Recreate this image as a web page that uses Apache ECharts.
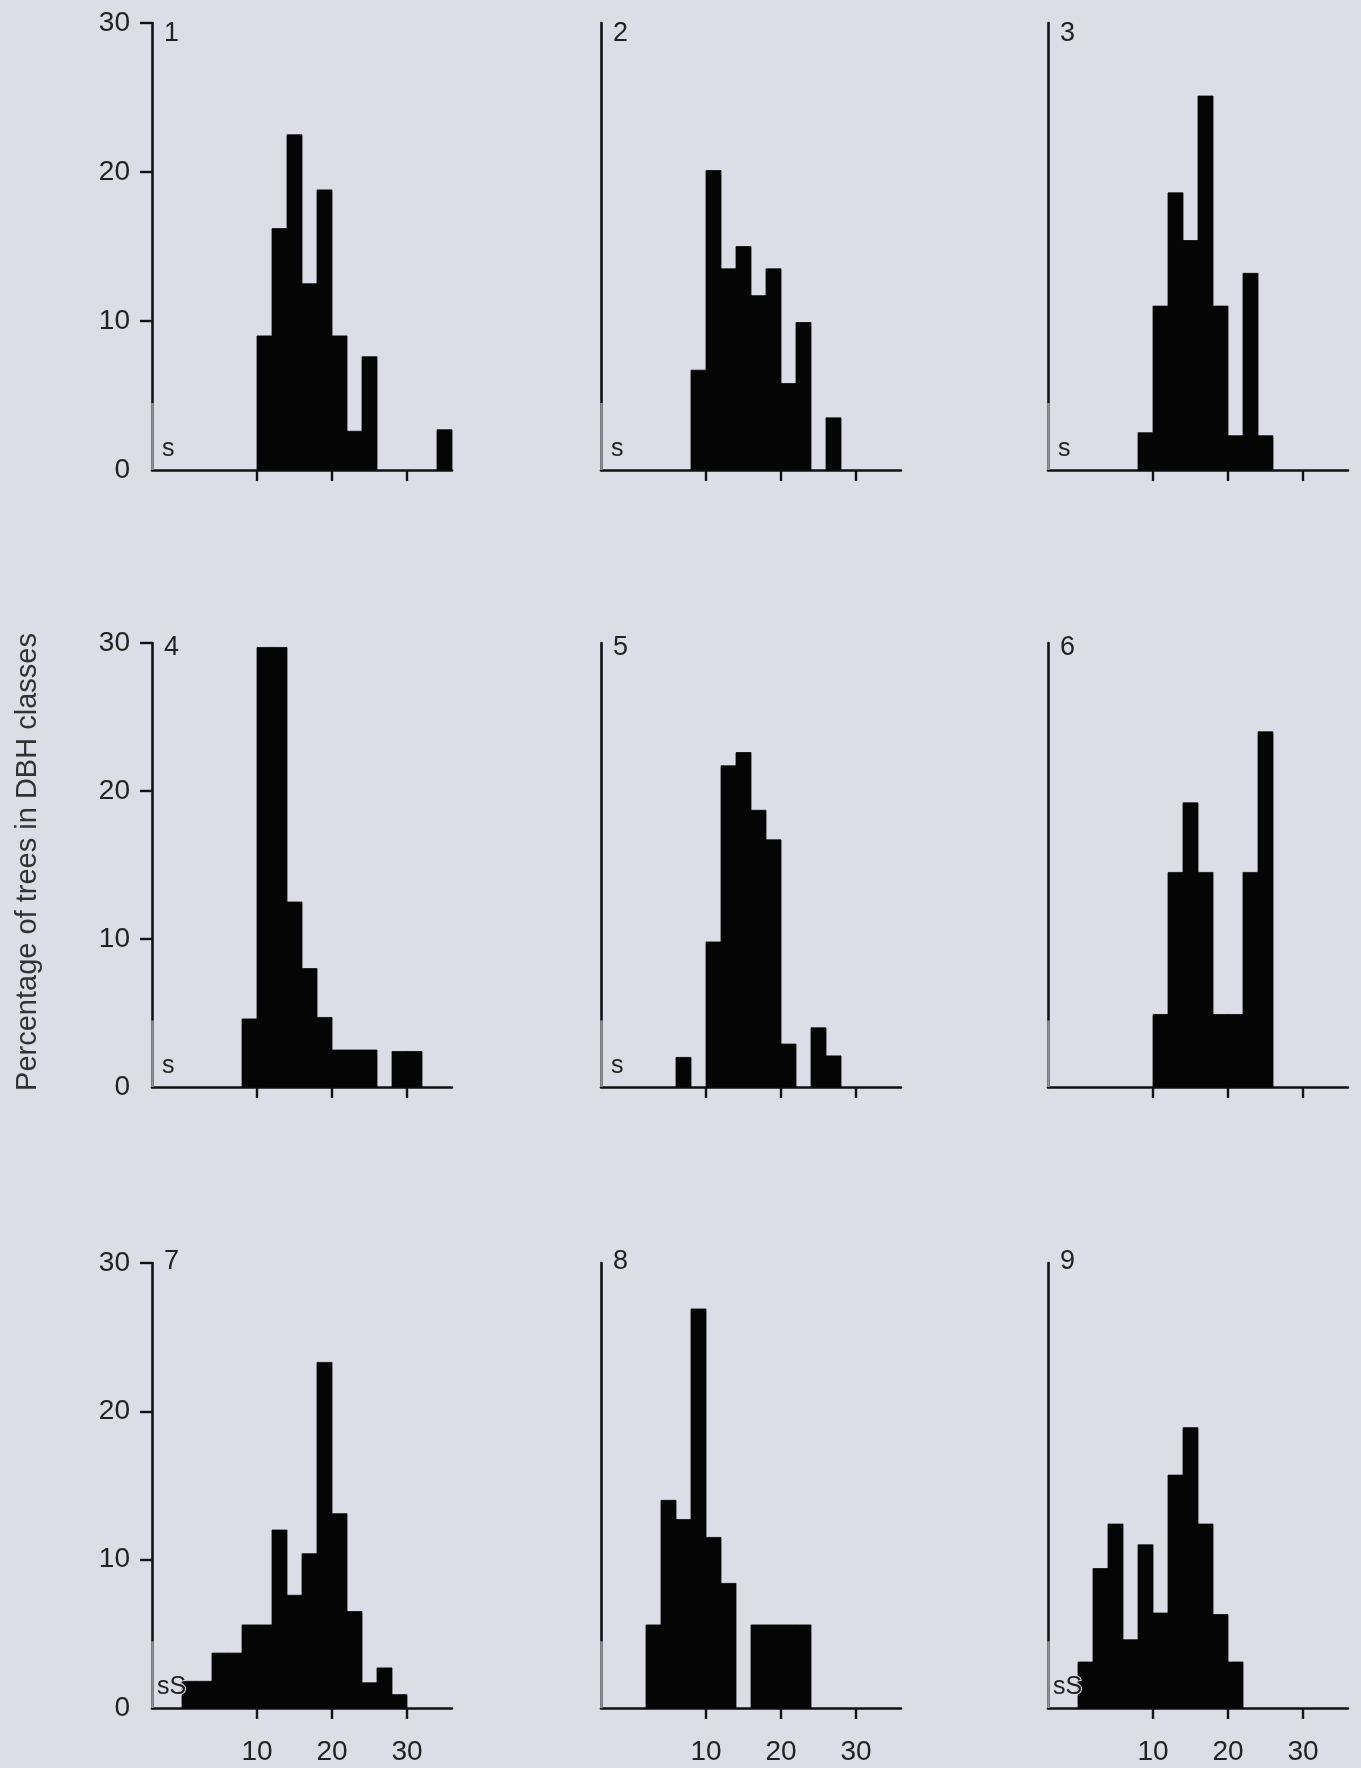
<!DOCTYPE html>
<html>
<head>
<meta charset="utf-8">
<script src="https://cdn.jsdelivr.net/npm/echarts@6/dist/echarts.min.js"></script>
<style>
  html, body { margin: 0; padding: 0; background: #dcdde6; }
  #chart { width: 1361px; height: 1768px; }
</style>
</head>
<body>
<div id="chart"></div>
<script>
// ---- Data ----
// Lower edge of each DBH class (cm); each class is classWidth wide
const dbhClasses = [0, 2, 4, 6, 8, 10, 12, 14, 16, 18, 20, 22, 24, 26, 28, 30, 32, 34];
const classWidth = 2;

// Percentage of trees in each DBH class, one array per panel
const panel1 = [0, 0, 0, 0, 0, 9.0, 16.2, 22.5, 12.5, 18.8, 9.0, 2.6, 7.6, 0, 0, 0, 0, 2.7];
const panel2 = [0, 0, 0, 0, 6.7, 20.1, 13.5, 15.0, 11.7, 13.5, 5.8, 9.9, 0, 3.5, 0, 0, 0, 0];
const panel3 = [0, 0, 0, 0, 2.5, 11.0, 18.6, 15.4, 25.1, 11.0, 2.3, 13.2, 2.3, 0, 0, 0, 0, 0];
const panel4 = [0, 0, 0, 0, 4.6, 29.7, 29.7, 12.5, 8.0, 4.7, 2.5, 2.5, 2.5, 0, 2.4, 2.4, 0, 0];
const panel5 = [0, 0, 0, 2.0, 0, 9.8, 21.7, 22.6, 18.7, 16.7, 2.9, 0, 4.0, 2.1, 0, 0, 0, 0];
const panel6 = [0, 0, 0, 0, 0, 4.9, 14.5, 19.2, 14.5, 4.9, 4.9, 14.5, 24.0, 0, 0, 0, 0, 0];
const panel7 = [1.8, 1.8, 3.7, 3.7, 5.6, 5.6, 12.0, 7.6, 10.4, 23.3, 13.1, 6.5, 1.7, 2.7, 0.9, 0, 0, 0];
const panel8 = [0, 5.6, 14.0, 12.7, 26.9, 11.5, 8.4, 0, 5.6, 5.6, 5.6, 5.6, 0, 0, 0, 0, 0, 0];
const panel9 = [3.1, 9.4, 12.4, 4.6, 11.0, 6.4, 15.7, 18.9, 12.4, 6.3, 3.1, 0, 0, 0, 0, 0, 0, 0];

const panelNames = ['1', '2', '3', '4', '5', '6', '7', '8', '9'];
const panelNotes = ['s', 's', 's', 's', 's', '', 'sS', '', 'sS'];
const sBarHeight = 4.5;           // light segment at the foot of each y axis
const yTickValues = [10, 20, 30];
const xTickValues = [10, 20, 30];
const yRange = [0, 30];
const xRange = [-4, 36];
const yTitle = 'Percentage of trees in DBH classes';

// ---- Layout (pixels) ----
const colLeft = [152, 601, 1048];
const rowTop = [23, 643, 1263];
const rowHeight = [447, 444, 445];
const gridWidth = 300;
const numberTopOffset = [-3, -9, -15];

const panels = [panel1, panel2, panel3, panel4, panel5, panel6, panel7, panel8, panel9];
const FONT = 'Liberation Sans, Arial, Helvetica, sans-serif';
const INK = '#111111';
const TEXT = '#222222';
const BG = '#dcdde6';

const grids = [], xAxes = [], yAxes = [], series = [], graphics = [];

panels.forEach((vals, i) => {
  const r = Math.floor(i / 3), c = i % 3;
  grids.push({ left: colLeft[c], top: rowTop[r], width: gridWidth, height: rowHeight[r] });
  xAxes.push({
    gridIndex: i, type: 'value', min: xRange[0], max: xRange[1],
    axisLine: { show: true, onZero: false, lineStyle: { color: INK, width: 2.6 } },
    axisTick: { show: true, customValues: xTickValues, length: 11, lineStyle: { color: INK, width: 2.4 } },
    axisLabel: { show: r === 2, customValues: xTickValues, margin: 30, fontSize: 28, color: TEXT, fontFamily: FONT },
    splitLine: { show: false }
  });
  yAxes.push({
    gridIndex: i, type: 'value', min: yRange[0], max: yRange[1], interval: 10,
    axisLine: { show: true, onZero: false, lineStyle: { color: INK, width: 2.6 } },
    axisTick: { show: c === 0, customValues: yTickValues, length: 12, lineStyle: { color: INK, width: 2.4 } },
    axisLabel: { show: c === 0, margin: 22, fontSize: 28, color: TEXT, fontFamily: FONT },
    splitLine: { show: false }
  });
  const data = [];
  dbhClasses.forEach((lo, k) => {
    if (vals[k] > 0) data.push([lo, lo + classWidth, vals[k]]);
  });
  series.push({
    type: 'custom', xAxisIndex: i, yAxisIndex: i, silent: true,
    encode: { x: [0, 1], y: 2 },
    data: data,
    renderItem: function (params, api) {
      const p0 = api.coord([api.value(0), 0]);
      const p1 = api.coord([api.value(1), api.value(2)]);
      return {
        type: 'rect',
        shape: { x: p0[0], y: p1[1], width: p1[0] - p0[0], height: p0[1] - p1[1] },
        style: { fill: '#050505', stroke: '#050505', lineWidth: 0.8 }
      };
    },
    markLine: {
      silent: true, symbol: 'none', z: 10,
      lineStyle: { color: '#8d8e96', width: 2.6, type: 'solid' },
      label: { show: false },
      data: [[{ coord: [xRange[0], 0] }, { coord: [xRange[0], sBarHeight] }]]
    }
  });
  graphics.push({
    type: 'text', left: colLeft[c] + 12, top: rowTop[r] + numberTopOffset[r],
    style: { text: panelNames[i], fontSize: 27, fill: TEXT, fontFamily: FONT }
  });
  if (panelNotes[i]) {
    graphics.push({
      type: 'text', left: colLeft[c] + (panelNotes[i] === 's' ? 9 : 4),
      top: rowTop[r] + rowHeight[r] - 34, z: 100,
      style: { text: panelNotes[i], fontSize: 25, fill: TEXT, fontFamily: FONT,
               stroke: BG, lineWidth: 2 }
    });
  }
});

graphics.push({
  type: 'text', x: 28, y: 862, rotation: Math.PI / 2,
  style: { text: yTitle, fontSize: 29, fill: '#333333', fontFamily: FONT,
           textAlign: 'center', textVerticalAlign: 'middle' }
});

const chart = echarts.init(document.getElementById('chart'), null, { renderer: 'canvas' });
chart.setOption({
  backgroundColor: BG,
  animation: false,
  grid: grids,
  xAxis: xAxes,
  yAxis: yAxes,
  series: series,
  graphic: graphics
});
</script>
</body>
</html>
